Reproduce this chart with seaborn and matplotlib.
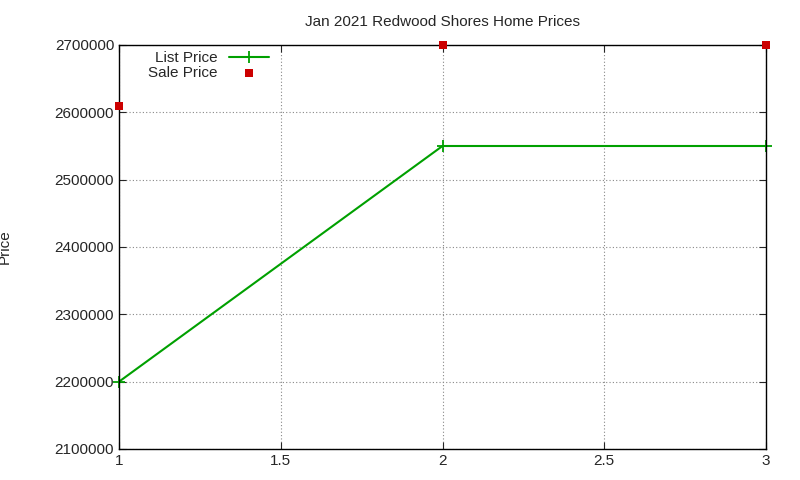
import matplotlib
matplotlib.use("Agg")
import matplotlib.pyplot as plt
import seaborn as sns
import pandas as pd

x_vals = [1, 2, 3]
list_price = [2200000, 2550000, 2550000]
sale_price = [2610000, 2700000, 2700000]

df = pd.DataFrame({"x": x_vals, "list": list_price, "sale": sale_price})

sns.set_style("ticks")
plt.rcParams["font.family"] = ["Liberation Sans", "DejaVu Sans"]

fig = plt.figure(figsize=(8, 4.8), dpi=100)
ax = fig.add_axes([119 / 800, 1 - 449 / 480, (766 - 119) / 800, (449 - 45) / 480])

sns.lineplot(data=df, x="x", y="list", ax=ax, color="#00a000", marker="+",
             markersize=8, markeredgewidth=1.3, markeredgecolor="#00a000",
             linewidth=1.5, label="List Price", clip_on=False)
sns.scatterplot(data=df, x="x", y="sale", ax=ax, color="#cc0000", marker="s",
                s=30, linewidth=0, label="Sale Price", clip_on=False, zorder=5)

ax.set_xlim(1, 3)
ax.set_ylim(2100000, 2700000)
ax.set_xticks([1, 1.5, 2, 2.5, 3])
ax.set_xticklabels(["1", "1.5", "2", "2.5", "3"])
ax.set_yticks(range(2100000, 2700001, 100000))
ax.set_yticklabels([str(v) for v in range(2100000, 2700001, 100000)])
ax.tick_params(direction="in", labelsize=11, length=5, top=True, right=True)
ax.grid(True, linestyle=(0, (1, 2)), color="#888888", linewidth=0.8)
for s in ax.spines.values():
    s.set_color("black")
    s.set_linewidth(1)

ax.set_xlabel("")
ax.set_ylabel("Price", fontsize=11)
ax.yaxis.set_label_coords(-0.165, 0.5)
ax.set_title("Jan 2021 Redwood Shores Home Prices", fontsize=11, pad=14)

ax.legend(loc="upper left", frameon=False, markerfirst=False, fontsize=11,
          handlelength=2.6, borderaxespad=0.0, labelspacing=0.05,
          bbox_to_anchor=(0.035, 1.0))

fig.savefig("out.png", dpi=100)
